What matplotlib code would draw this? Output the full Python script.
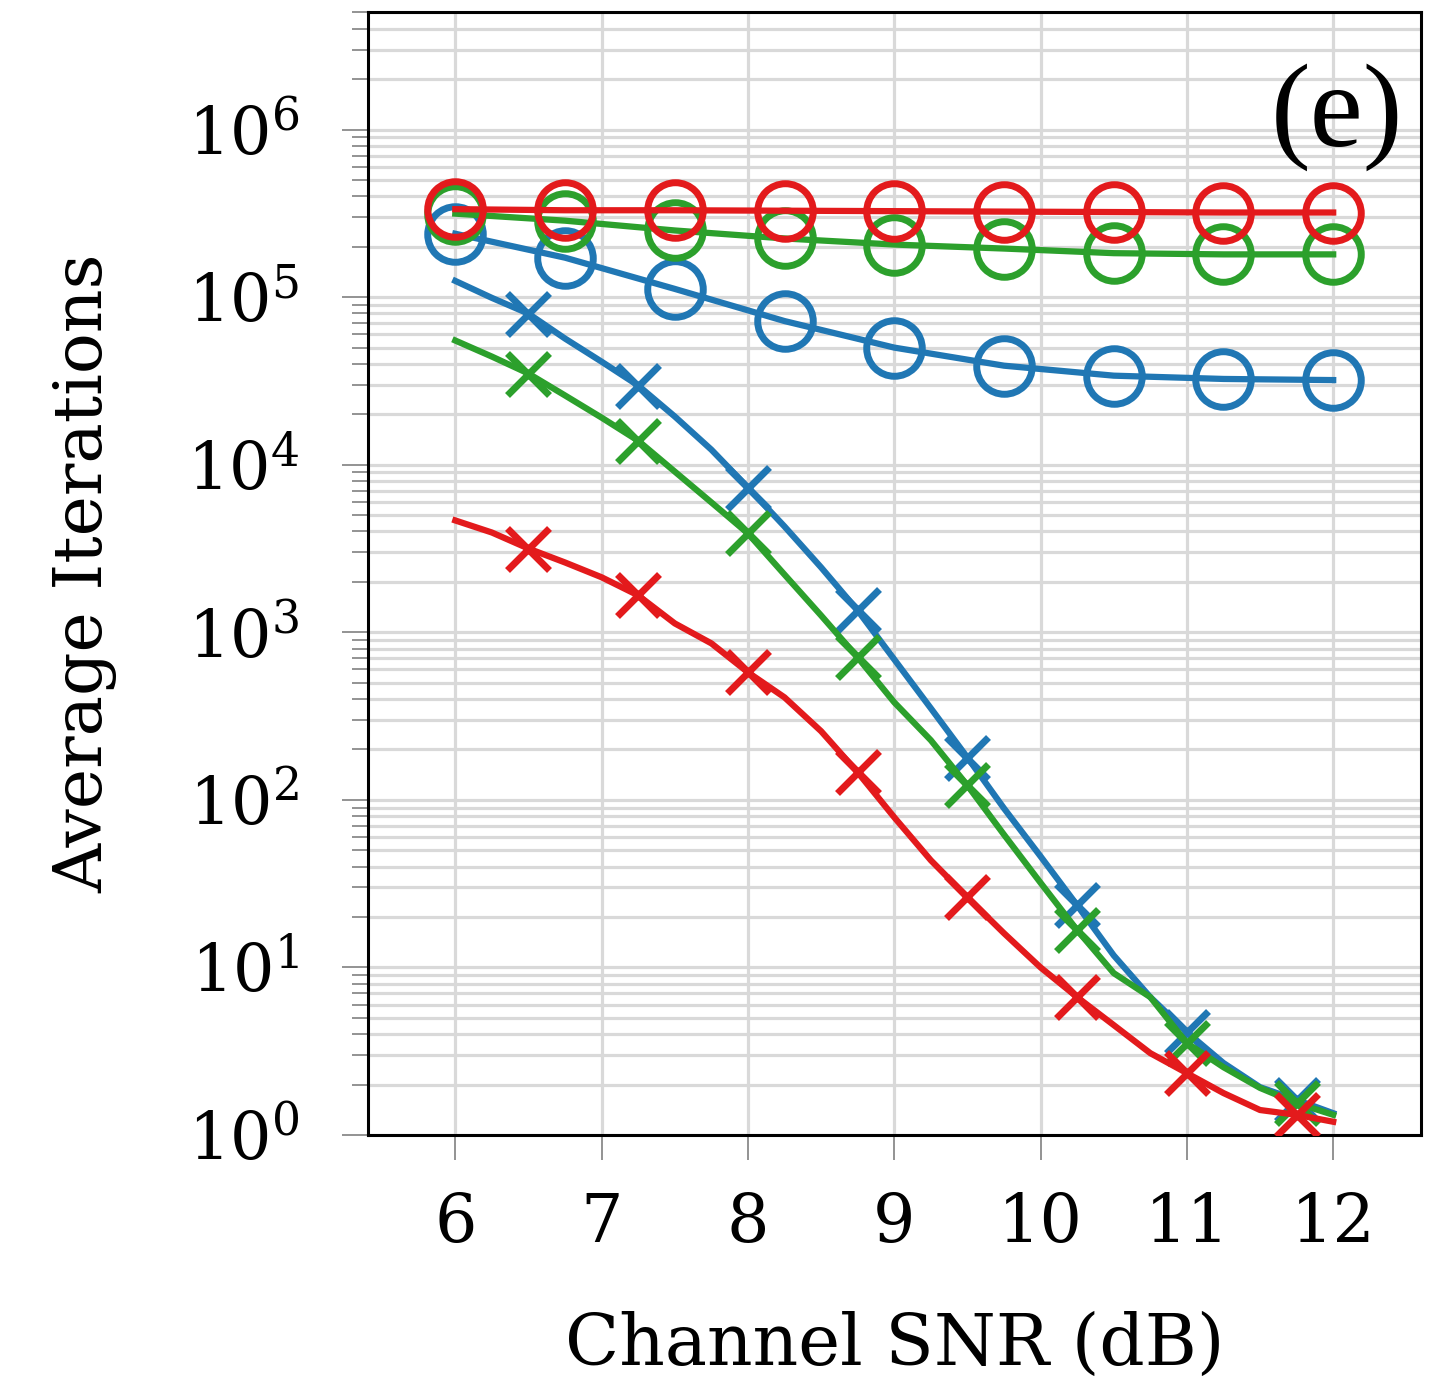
import numpy as np
import matplotlib
matplotlib.use('Agg')
import matplotlib.pyplot as plt
from matplotlib.ticker import LogLocator, NullFormatter

plt.rcParams['font.family'] = ['DejaVu Serif']
plt.rcParams['mathtext.fontset'] = 'dejavuserif'

# SNR values (dB)
snr_circ = [6, 6.75, 7.5, 8.25, 9, 9.75, 10.5, 11.25, 12]
snr_cross = [6, 6.25, 6.5, 6.75, 7, 7.25, 7.5, 7.75, 8, 8.25, 8.5, 8.75, 9,
             9.25, 9.5, 9.75, 10, 10.25, 10.5, 10.75, 11, 11.25, 11.5, 11.75, 12]

# circle series (upper, flat-ish)
blue_circ = [2.39e5, 1.72e5, 1.12e5, 7.2e4, 5.0e4, 3.9e4, 3.4e4, 3.25e4, 3.2e4]
green_circ = [3.15e5, 2.86e5, 2.5e5, 2.24e5, 2.06e5, 1.95e5, 1.83e5, 1.8e5, 1.8e5]
red_circ = [3.35e5, 3.3e5, 3.3e5, 3.28e5, 3.26e5, 3.24e5, 3.22e5, 3.2e5, 3.2e5]

# cross series (falling)
blue_cross = [1.25e5, 9.9e4, 7.97e4, 5.66e4, 4.12e4, 2.97e4, 1.94e4, 1.23e4, 7.31e3,
              4.28e3, 2.44e3, 1.35e3, 689, 352, 179, 89, 46, 23.5, 11.8, 6.65,
              4.11, 2.69, 1.93, 1.62, 1.35]
green_cross = [5.51e4, 4.42e4, 3.5e4, 2.59e4, 1.91e4, 1.39e4, 9.1e3, 5.96e3, 3.89e3,
               2.21e3, 1.26e3, 708, 382, 227, 122, 62, 32, 16.7, 9.25, 6.65,
               3.54, 2.54, 1.91, 1.55, 1.32]
red_cross = [4.65e3, 3.94e3, 3.16e3, 2.61e3, 2.13e3, 1.66e3, 1.13e3, 859, 577,
             409, 257, 146, 78.7, 43.6, 26.2, 16.0, 10.0, 6.65, 4.53, 3.08,
             2.34, 1.78, 1.41, 1.32, 1.20]

colors = {'blue': '#2077b4', 'green': '#2ca02c', 'red': '#e31a1c'}

fig = plt.figure(figsize=(14.3, 13.83), dpi=100)
ax = fig.add_axes([0.257, 0.1793, 0.7367, 0.8117])

lw = 4.5
for name, circ, cross in [('blue', blue_circ, blue_cross),
                          ('green', green_circ, green_cross),
                          ('red', red_circ, red_cross)]:
    c = colors[name]
    ax.plot(snr_circ, circ, color=c, lw=lw, marker='o', ms=40, mew=5,
            mfc='none', zorder=3)
    ax.plot(snr_cross, cross, color=c, lw=lw, marker='x', ms=30, mew=5,
            markevery=slice(2, None, 3), zorder=3)

ax.set_yscale('log')
ax.set_xlim(5.4, 12.6)
ax.set_ylim(1, 5e6)
ax.set_xticks([6, 7, 8, 9, 10, 11, 12])
ax.yaxis.set_major_locator(LogLocator(base=10, numticks=10))
ax.yaxis.set_minor_locator(LogLocator(base=10, subs=np.arange(2, 10), numticks=20))
ax.yaxis.set_minor_formatter(NullFormatter())

ax.grid(True, which='both', axis='y', color='#d9d9d9', lw=2.3, zorder=0)
ax.grid(True, which='major', axis='x', color='#d9d9d9', lw=2.3, zorder=0)
ax.set_axisbelow(True)

ax.tick_params(axis='y', which='major', direction='out', length=19, width=1.2,
               color='#808080', labelsize=47, pad=30)
ax.tick_params(axis='y', which='minor', direction='out', length=11.5, width=1.2,
               color='#808080')
ax.tick_params(axis='x', which='major', direction='out', length=18, width=1.2,
               color='#808080', labelsize=48, pad=22)
ax.tick_params(axis='x', which='minor', bottom=False)

for s in ax.spines.values():
    s.set_linewidth(2.2)
    s.set_color('black')

ax.set_xlabel('Channel SNR (dB)', fontsize=51, labelpad=40)
ax.set_ylabel('Average Iterations', fontsize=49, labelpad=50)

ax.text(0.983, 0.955, '(e)', transform=ax.transAxes, ha='right', va='top',
        fontsize=86, family='Liberation Serif')

fig.savefig('out.png', dpi=100)
